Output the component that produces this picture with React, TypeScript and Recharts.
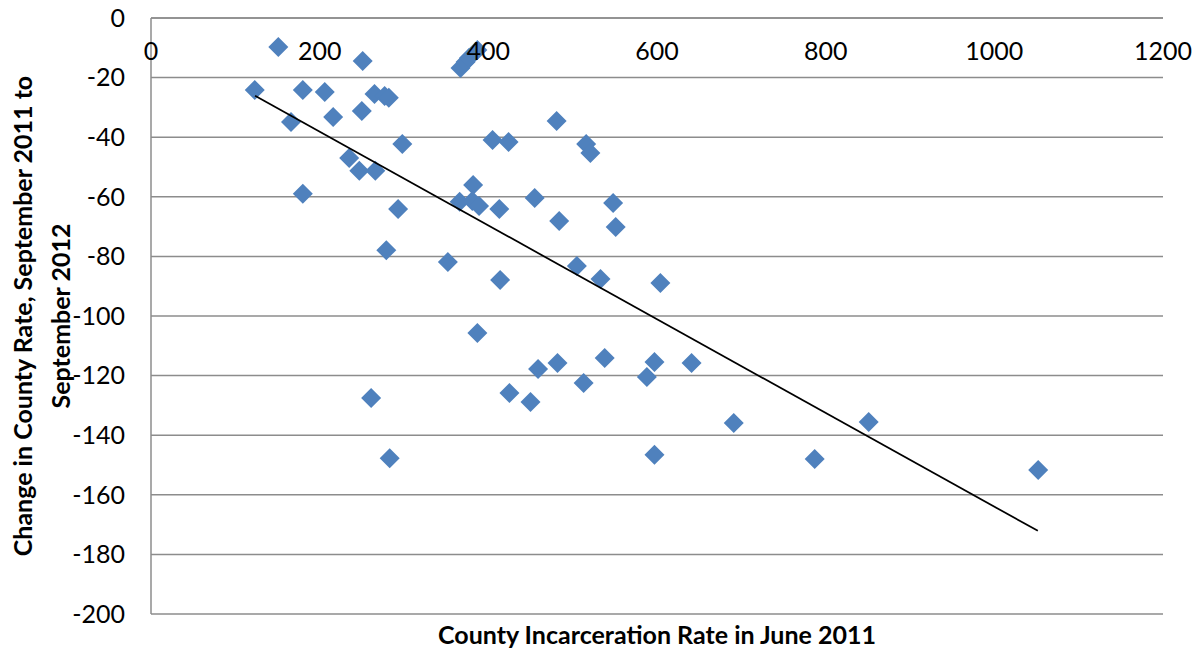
import { ScatterChart, Scatter, XAxis, YAxis, CartesianGrid } from "recharts";

// June 2011 county incarceration rate
const rateJune2011 = [
  123, 151, 166, 180, 180, 206, 216, 235, 247, 250, 251, 265, 266, 261, 277, 282,
  279, 298, 293, 283, 352, 366, 367, 373, 377, 387, 382, 381, 389, 387, 405, 413,
  414, 424, 425, 450, 455, 459, 482, 481, 484, 505, 513, 516, 521, 533, 538, 548,
  551, 588, 597, 597, 604, 641, 691, 787, 851, 1052,
];

// change Sept 2011 -> Sept 2012
const rateChange = [
  -24.2, -9.7, -34.9, -24.2, -59, -24.8, -33.2, -47, -51.3, -31.2, -14.4, -25.5,
  -51.3, -127.5, -26.2, -26.8, -77.9, -42.3, -64.1, -147.7, -81.9, -61.7, -16.8,
  -14.8, -13.4, -10.7, -56, -61.4, -63.1, -105.7, -40.9, -64.1, -87.9, -41.6,
  -125.8, -128.9, -60.4, -117.8, -115.8, -34.6, -68.1, -83.2, -122.5, -42.3,
  -45.3, -87.6, -114.1, -62.1, -70.1, -120.5, -115.4, -146.6, -88.9, -115.8,
  -135.9, -148, -135.6, -151.7,
];

// linear trendline end points
const trendX = [123.4, 1051.6];
const trendY = [-26.1, -172.1];

const xTicks = [0, 200, 400, 600, 800, 1000, 1200];
const yTicks = [0, -20, -40, -60, -80, -100, -120, -140, -160, -180, -200];

const points = rateJune2011.map((x, i) => ({ x, y: rateChange[i] }));
const trend = trendX.map((x, i) => ({ x, y: trendY[i] }));

const FONT = "Lato, 'Open Sans', sans-serif";
const GRID = "#8c8c8c";

const Diamond = (props: any) => {
  const { cx, cy } = props;
  const r = 10;
  return (
    <polygon
      points={`${cx},${cy - r} ${cx + r},${cy} ${cx},${cy + r} ${cx - r},${cy}`}
      fill="#4F81BD"
    />
  );
};

// x tick labels sit just under the axis line (axis crosses at y = 0)
const TopTick = (props: any) => {
  const { x, y, payload } = props;
  return (
    <text x={x} y={y + 50} textAnchor="middle" fontFamily={FONT} fontSize={25} fill="#000">
      {payload.value}
    </text>
  );
};

const YTitle = (props: any) => {
  const { viewBox } = props;
  const cy = viewBox.y + viewBox.height / 2;
  return (
    <g>
      <text
        x={24}
        y={cy}
        transform={`rotate(-90, 24, ${cy})`}
        textAnchor="middle"
        fontFamily={FONT}
        fontWeight="bold"
        fontSize={25}
        fill="#000"
      >
        Change in County Rate, September 2011 to
      </text>
      <text
        x={62}
        y={cy}
        transform={`rotate(-90, 62, ${cy})`}
        textAnchor="middle"
        fontFamily={FONT}
        fontWeight="bold"
        fontSize={25}
        fill="#000"
      >
        September 2012
      </text>
    </g>
  );
};

const XTitle = (props: any) => {
  const { viewBox } = props;
  return (
    <text
      x={viewBox.x + viewBox.width / 2}
      y={viewBox.y + 30}
      textAnchor="middle"
      fontFamily={FONT}
      fontWeight="bold"
      fontSize={25}
      fill="#000"
    >
      County Incarceration Rate in June 2011
    </text>
  );
};

export default function App() {
  return (
    <div style={{ marginTop: -10 }}>
      <ScatterChart
        width={1184}
        height={652}
        margin={{ top: 19, right: 29, bottom: 0, left: 0 }}
        style={{ fontFamily: FONT }}
      >
        <CartesianGrid vertical={false} stroke={GRID} strokeWidth={1.5} />
        <XAxis
          type="number"
          dataKey="x"
          orientation="top"
          height={1}
          domain={[0, 1200]}
          ticks={xTicks}
          interval={0}
          tickLine={false}
          axisLine={{ stroke: GRID, strokeWidth: 1.5 }}
          tick={TopTick}
          allowDataOverflow
        />
        <XAxis
          xAxisId="title"
          type="number"
          dataKey="x"
          orientation="bottom"
          height={36}
          domain={[0, 1200]}
          tick={false}
          tickLine={false}
          axisLine={false}
          label={{ content: XTitle }}
        />
        <YAxis
          type="number"
          dataKey="y"
          width={143}
          domain={[-200, 0]}
          ticks={yTicks}
          interval={0}
          tickLine={false}
          tickSize={0}
          tickMargin={26}
          axisLine={{ stroke: GRID, strokeWidth: 1.5 }}
          tick={{ fill: "#000", fontSize: 25 }}
          label={{ content: YTitle }}
          allowDataOverflow
        />
        <Scatter data={points} shape={Diamond} isAnimationActive={false} />
        <Scatter
          data={trend}
          line={{ stroke: "#000", strokeWidth: 1.75 }}
          shape={() => <g />}
          isAnimationActive={false}
        />
      </ScatterChart>
    </div>
  );
}
